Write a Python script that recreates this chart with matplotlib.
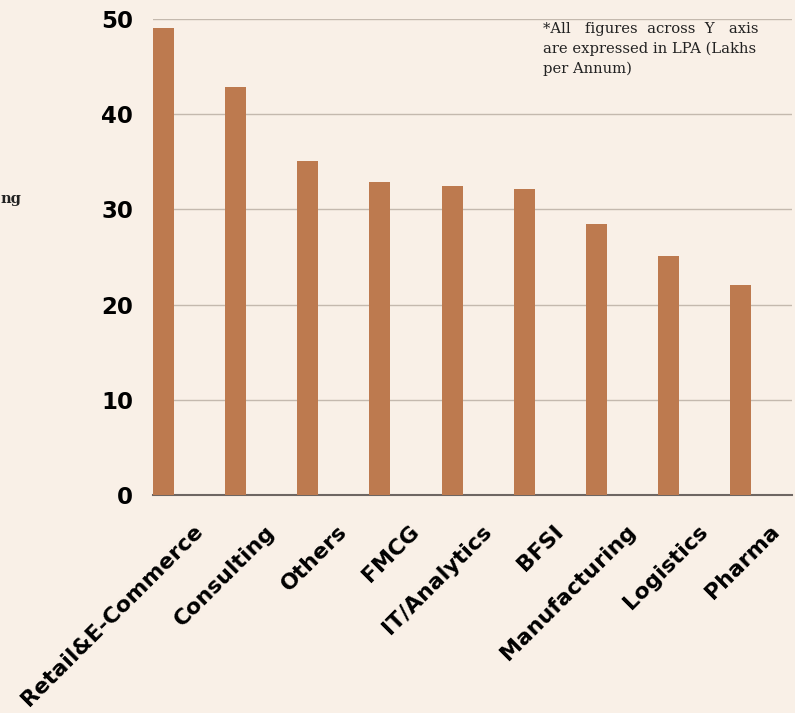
import matplotlib.pyplot as plt
from matplotlib.transforms import ScaledTranslation

sectors = ['Retail&E-Commerce', 'Consulting', 'Others', 'FMCG', 'IT/Analytics',
           'BFSI', 'Manufacturing', 'Logistics', 'Pharma']
avg_ctc = [49.1, 42.9, 35.1, 32.9, 32.5, 32.1, 28.5, 25.1, 22.1]
yticks = [0, 10, 20, 30, 40, 50]

bg = '#f9f0e7'
bar_col = '#bd7a4f'

fig = plt.figure(figsize=(7.95, 7.13), dpi=100, facecolor=bg)
ax = fig.add_axes([0.1925, 0.3058, 0.8035, 0.6676])
ax.set_facecolor(bg)

x = range(len(sectors))
ax.bar(x, avg_ctc, width=0.29, color=bar_col, zorder=3)

ax.set_ylim(0, 50)
ax.set_xlim(-0.146, 8.71)
ax.set_yticks(yticks)
ax.yaxis.grid(True, color='#c4b9ae', linewidth=1.0, zorder=0)
for s in ['top', 'right', 'left']:
    ax.spines[s].set_visible(False)
ax.spines['bottom'].set_color('#6e6662')
ax.spines['bottom'].set_linewidth(1.5)
ax.tick_params(axis='y', length=0, pad=14.5, labelsize=16.5)
ax.tick_params(axis='x', length=0, pad=24)
for lab in ax.get_yticklabels():
    lab.set_fontfamily('DejaVu Sans')
    lab.set_fontweight('bold')

ax.set_xticks(list(x))
ax.set_xticklabels(sectors, rotation=45, ha='right', va='center',
                   rotation_mode='anchor', fontsize=15.8,
                   fontfamily='DejaVu Sans', fontweight='bold')
shift = ScaledTranslation(0.36, 0, fig.dpi_scale_trans)
for lab in ax.get_xticklabels():
    lab.set_transform(lab.get_transform() + shift)

# note in top right
note = ['*All   figures  across  Y   axis',
        'are expressed in LPA (Lakhs',
        'per Annum)']
for i, line in enumerate(note):
    fig.text(543 / 795, 1 - (33 + i * 20) / 713, line, fontsize=10.6,
             fontfamily='DejaVu Serif', color='#222222', va='baseline')

# left label fragment
fig.text(0.5 / 795, 1 - 203 / 713, 'ng', fontsize=10.5, fontweight='bold',
         fontfamily='DejaVu Serif', ha='left', va='baseline', color='#222222')

fig.savefig('out.png', dpi=100, facecolor=bg)
